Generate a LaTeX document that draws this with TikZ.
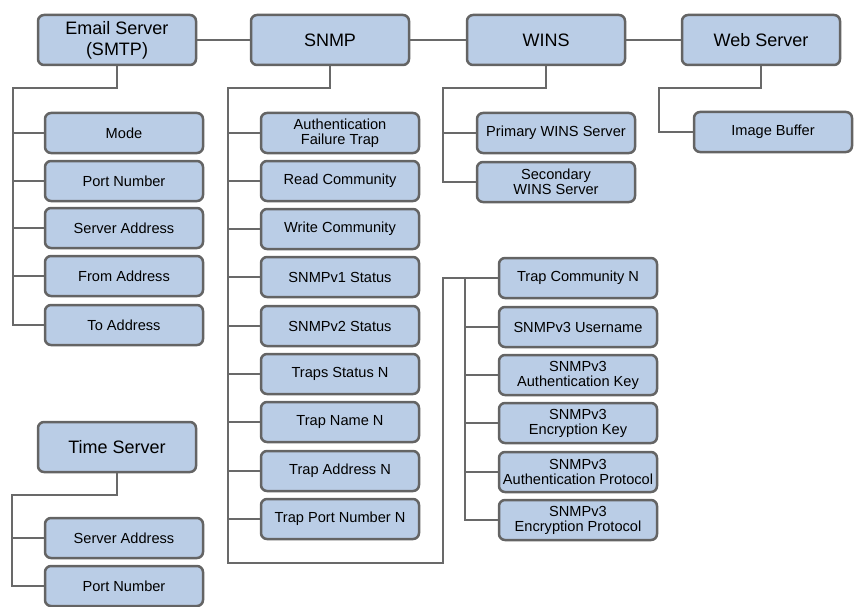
\documentclass[tikz,border=0pt]{standalone}
\usepackage{fontspec}
\setmainfont{Liberation Sans}
\definecolor{boxfill}{RGB}{186,205,230}
\definecolor{boxline}{RGB}{100,100,100}
\definecolor{wire}{RGB}{105,105,105}
\begin{document}
\begin{tikzpicture}[x=1pt,y=-1pt,
    topbox/.style={draw=boxline,fill=boxfill,line width=2.5pt,rounded corners=6pt,
      minimum width=158pt,minimum height=50pt,inner sep=1pt,align=center,
      font=\fontsize{18}{21}\selectfont},
    leafbox/.style={draw=boxline,fill=boxfill,line width=2.5pt,rounded corners=6pt,
      minimum width=158pt,minimum height=40pt,inner sep=1pt,align=center,
      font=\fontsize{14.6}{15}\selectfont},
    wire/.style={draw=wire,line width=2.5pt}]
  \useasboundingbox (0,0) rectangle (859,607);
  \draw
    (117,40) node[topbox] (email){Email Server\\(SMTP)}
    (330,40) node[topbox] (snmp){SNMP}
    (546,40) node[topbox] (wins){WINS}
    (761,40) node[topbox] (web){Web Server}
    (117,447) node[topbox] (time){Time Server};
  \draw
    (124,133) node[leafbox] (mode){Mode}
    (124,181) node[leafbox] (eport){Port Number}
    (124,228) node[leafbox] (eserver){Server Address}
    (124,276) node[leafbox] (efrom){From Address}
    (124,325) node[leafbox] (eto){To Address};
  \draw
    (340,133) node[leafbox] (authtrap){Authentication\\Failure Trap}
    (340,181) node[leafbox] (readcomm){Read Community}
    (340,229) node[leafbox] (writecomm){Write Community}
    (340,277) node[leafbox] (vonestat){SNMPv1 Status}
    (340,326) node[leafbox] (vtwostat){SNMPv2 Status}
    (340,374) node[leafbox] (trapstat){Traps Status N}
    (340,422) node[leafbox] (trapname){Trap Name N}
    (340,471) node[leafbox] (trapaddr){Trap Address N}
    (340,519) node[leafbox] (trapport){Trap Port Number N};
  \draw
    (578,278) node[leafbox] (trapcomm){Trap Community N}
    (578,327) node[leafbox] (vthreeuser){SNMPv3 Username}
    (578,375) node[leafbox] (vthreeakey){SNMPv3\\Authentication Key}
    (578,423) node[leafbox] (vthreeekey){SNMPv3\\Encryption Key}
    (578,472) node[leafbox] (vthreeaproto){SNMPv3\\Authentication Protocol}
    (578,520) node[leafbox] (vthreeeproto){SNMPv3\\Encryption Protocol};
  \draw
    (556,133) node[leafbox] (primwins){Primary WINS Server}
    (556,182) node[leafbox] (secwins){Secondary\\WINS Server}
    (773,132) node[leafbox] (imgbuf){Image Buffer}
    (124,538) node[leafbox] (tserver){Server Address}
    (124,586) node[leafbox] (tport){Port Number};
  \coordinate (etop) at (13,88);
  \coordinate (stop) at (228,88);
  \coordinate (sbot) at (228,563);
  \coordinate (sright) at (443,563);
  \coordinate (vtop) at (465,278);
  \coordinate (wtop) at (443,88);
  \coordinate (btop) at (659,88);
  \coordinate (ttop) at (12,495);
  \begin{scope}[wire]
    \draw (email) -- (snmp);
    \draw (snmp) -- (wins);
    \draw (wins) -- (web);
    \draw (email.south) |- (etop) |- (eto.west);
    \draw (etop) |- (mode.west);
    \draw (etop) |- (eport.west);
    \draw (etop) |- (eserver.west);
    \draw (etop) |- (efrom.west);
    \draw (snmp.south) |- (stop) -- (sbot) -- (sright) |- (trapcomm.west);
    \draw (stop) |- (authtrap.west);
    \draw (stop) |- (readcomm.west);
    \draw (stop) |- (writecomm.west);
    \draw (stop) |- (vonestat.west);
    \draw (stop) |- (vtwostat.west);
    \draw (stop) |- (trapstat.west);
    \draw (stop) |- (trapname.west);
    \draw (stop) |- (trapaddr.west);
    \draw (stop) |- (trapport.west);
    \draw (vtop) |- (vthreeuser.west);
    \draw (vtop) |- (vthreeakey.west);
    \draw (vtop) |- (vthreeekey.west);
    \draw (vtop) |- (vthreeaproto.west);
    \draw (vtop) |- (vthreeeproto.west);
    \draw (wins.south) |- (wtop) |- (secwins.west);
    \draw (wtop) |- (primwins.west);
    \draw (web.south) |- (btop) |- (imgbuf.west);
    \draw (time.south) |- (ttop) |- (tport.west);
    \draw (ttop) |- (tserver.west);
  \end{scope}
\end{tikzpicture}
\end{document}
